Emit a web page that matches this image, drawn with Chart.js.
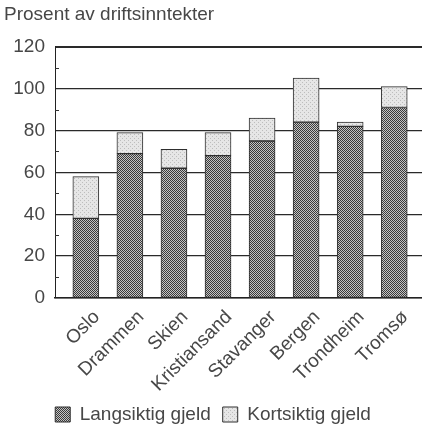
<!DOCTYPE html>
<html>
<head>
<meta charset="utf-8">
<script src="https://cdn.jsdelivr.net/npm/chart.js@4"></script>
<style>
  html, body { margin: 0; padding: 0; background: #fff; }
  #wrap { width: 422px; height: 434px; }
</style>
</head>
<body>
<div id="wrap"><canvas id="debtChart" width="422" height="434"></canvas></div>
<script>
const cities = ["Oslo", "Drammen", "Skien", "Kristiansand", "Stavanger", "Bergen", "Trondheim", "Tromsø"];
const longTerm = [38, 69, 62, 68, 75, 84, 82, 91];
const shortTerm = [20, 10, 9, 11, 11, 21, 2, 10];
const yTicks = [0, 20, 40, 60, 80, 100, 120];

const FONT = "'Liberation Sans Narrow', 'Liberation Sans', Arial, sans-serif";
const TEXT = "#474747";

// dithered fills like the printed original
function makePattern(dark, light, size, dots) {
  const c = document.createElement("canvas");
  c.width = size;
  c.height = size;
  const g = c.getContext("2d");
  g.fillStyle = light;
  g.fillRect(0, 0, size, size);
  g.fillStyle = dark;
  dots.forEach(([x, y]) => g.fillRect(x, y, 1, 1));
  return g.createPattern(c, "repeat");
}

const darkFill = makePattern("#3a3a3a", "#c4c4c4", 2, [[0, 0], [1, 1]]);
const lightFill = makePattern("#bdbdbd", "#e6e6e6", 4, [[0, 0], [2, 2]]);

const minorTicks = {
  id: "minorTicks",
  afterDraw(chart) {
    const y = chart.scales.y;
    const ctx = chart.ctx;
    ctx.save();
    ctx.strokeStyle = "#333";
    ctx.lineWidth = 1;
    for (let v = 10; v < 120; v += 20) {
      const py = Math.round(y.getPixelForValue(v)) + 0.5;
      ctx.beginPath();
      ctx.moveTo(chart.chartArea.left, py);
      ctx.lineTo(chart.chartArea.left + 4, py);
      ctx.stroke();
    }
    ctx.restore();
  }
};

new Chart(document.getElementById("debtChart"), {
  type: "bar",
  data: {
    datasets: [
      {
        label: "Langsiktig gjeld",
        data: longTerm.map((v, i) => ({ x: i, y: v })),
        backgroundColor: darkFill,
        borderColor: "#2e2e2e",
        borderWidth: 1,
        borderSkipped: false,
        barThickness: 26
      },
      {
        label: "Kortsiktig gjeld",
        data: shortTerm.map((v, i) => ({ x: i, y: v })),
        backgroundColor: lightFill,
        borderColor: "#2e2e2e",
        borderWidth: 1,
        borderSkipped: false,
        barThickness: 26
      }
    ]
  },
  options: {
    responsive: false,
    animation: false,
    layout: { padding: { left: 4, right: 0, top: 3, bottom: 0 } },
    plugins: {
      tooltip: { enabled: false },
      title: {
        display: true,
        text: "Prosent av driftsinntekter",
        align: "start",
        color: TEXT,
        font: { family: FONT, size: 19, weight: "normal" },
        padding: { top: 0, bottom: 21 }
      },
      legend: {
        position: "bottom",
        labels: {
          color: TEXT,
          font: { family: FONT, size: 19 },
          boxWidth: 15,
          boxHeight: 15,
          padding: 12
        }
      }
    },
    scales: {
      x: {
        type: "linear",
        stacked: true,
        offset: false,
        min: -0.7,
        max: 7.63,
        grid: { display: false },
        border: { color: "#222", width: 1.5 },
        ticks: {
          stepSize: 1,
          includeBounds: false,
          autoSkip: false,
          minRotation: 45,
          maxRotation: 45,
          labelOffset: 11,
          padding: 0,
          color: TEXT,
          font: { family: FONT, size: 19 },
          callback: (v) => cities[v] ?? ""
        },
        afterFit: (scale) => { scale.height = 95; }
      },
      y: {
        stacked: true,
        min: 0,
        max: 120,
        afterBuildTicks: (scale) => {
          scale.ticks = yTicks.map((v) => ({ value: v }));
        },
        grid: {
          color: "#2a2a2a",
          lineWidth: (c) => (c.tick && c.tick.value === 120 ? 2 : 1.3),
          drawTicks: false
        },
        border: { color: "#222", width: 1 },
        ticks: {
          color: TEXT,
          padding: 10,
          font: { family: FONT, size: 19 }
        },
        afterFit: (scale) => { scale.width = 51; }
      }
    }
  },
  plugins: [minorTicks]
});
</script>
</body>
</html>
